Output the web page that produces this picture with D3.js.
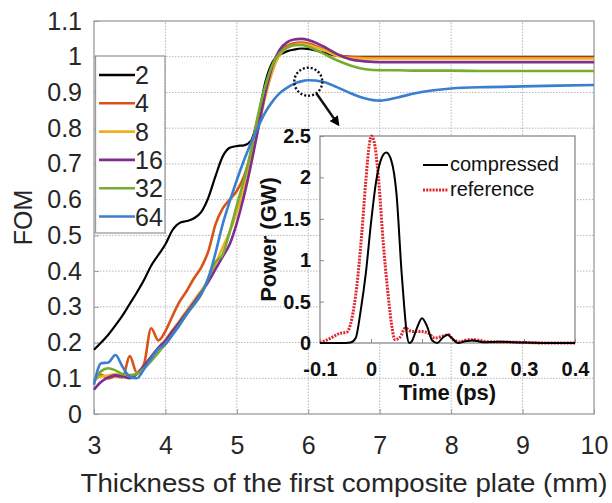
<!DOCTYPE html>
<html>
<head>
<meta charset="utf-8">
<script src="https://cdn.jsdelivr.net/npm/d3@7"></script>
<style>
  body { margin: 0; background: #fff; }
  svg { display: block; font-family: "Liberation Sans", Arial, sans-serif; }
</style>
</head>
<body>
<div id="vis"></div>
<script>
// main panel: FOM vs plate thickness
var thick = [3.0, 3.1, 3.2, 3.3, 3.4, 3.5, 3.6, 3.7, 3.8, 3.9,
             4.0, 4.1, 4.2, 4.3, 4.4, 4.5, 4.6, 4.7, 4.8, 4.9,
             5.0, 5.1, 5.2, 5.3, 5.4, 5.5, 5.6, 5.7, 5.8, 5.9,
             6.0, 6.2, 6.4, 6.6, 6.8, 7.0, 7.25, 7.5, 8.0, 8.5, 9.0, 10.0];

var fom2  = [0.180, 0.200, 0.222, 0.248, 0.276, 0.308, 0.340, 0.375, 0.415, 0.445,
             0.475, 0.515, 0.535, 0.540, 0.548, 0.565, 0.605, 0.665, 0.720, 0.745,
             0.750, 0.752, 0.765, 0.835, 0.930, 0.985, 1.005, 1.015, 1.020, 1.023,
             1.022, 1.012, 1.003, 1.000, 1.000, 1.000, 1.000, 1.000, 1.000, 1.000, 1.000, 1.000];
var fom4  = [0.095, 0.110, 0.100, 0.106, 0.102, 0.162, 0.116, 0.140, 0.240, 0.206,
             0.232, 0.275, 0.315, 0.345, 0.380, 0.410, 0.455, 0.530, 0.575, 0.600,
             0.625, 0.665, 0.730, 0.810, 0.895, 0.965, 1.010, 1.030, 1.038, 1.040,
             1.037, 1.022, 1.005, 0.999, 0.998, 0.998, 0.998, 0.998, 0.998, 0.998, 0.998, 0.998];
var fom8  = [0.100, 0.105, 0.108, 0.112, 0.105, 0.105, 0.115, 0.135, 0.160, 0.185,
             0.208, 0.235, 0.262, 0.290, 0.318, 0.345, 0.375, 0.420, 0.465, 0.510,
             0.565, 0.630, 0.710, 0.800, 0.890, 0.960, 1.005, 1.025, 1.033, 1.036,
             1.033, 1.020, 1.003, 0.996, 0.995, 0.995, 0.995, 0.995, 0.995, 0.995, 0.995, 0.995];
var fom16 = [0.068, 0.090, 0.102, 0.108, 0.105, 0.100, 0.112, 0.135, 0.160, 0.185,
             0.205, 0.232, 0.258, 0.285, 0.312, 0.340, 0.370, 0.405, 0.440, 0.475,
             0.535, 0.610, 0.700, 0.800, 0.900, 0.975, 1.020, 1.040, 1.048, 1.050,
             1.047, 1.030, 1.008, 0.992, 0.987, 0.985, 0.985, 0.985, 0.985, 0.985, 0.985, 0.985];
var fom32 = [0.090, 0.120, 0.128, 0.122, 0.112, 0.109, 0.112, 0.128, 0.148, 0.172,
             0.196, 0.222, 0.250, 0.280, 0.305, 0.335, 0.380, 0.425, 0.445, 0.510,
             0.585, 0.655, 0.740, 0.840, 0.920, 0.978, 1.010, 1.025, 1.032, 1.033,
             1.028, 1.010, 0.990, 0.975, 0.965, 0.962, 0.962, 0.961, 0.961, 0.960, 0.960, 0.960];
var fom64 = [0.082, 0.142, 0.144, 0.165, 0.132, 0.105, 0.100, 0.125, 0.155, 0.182,
             0.195, 0.222, 0.250, 0.280, 0.308, 0.335, 0.380, 0.450, 0.530, 0.595,
             0.655, 0.710, 0.760, 0.805, 0.845, 0.875, 0.898, 0.913, 0.924, 0.931,
             0.934, 0.930, 0.915, 0.897, 0.883, 0.877, 0.886, 0.898, 0.911, 0.915, 0.917, 0.921];

var seriesNames  = ["2", "4", "8", "16", "32", "64"];
var seriesValues = [fom2, fom4, fom8, fom16, fom32, fom64];
var seriesColors = ["#000000", "#d95319", "#edb120", "#7e2f8e", "#77ac30", "#3a7fcf"];

var xTicks = [3, 4, 5, 6, 7, 8, 9, 10];
var yTicks = [0, 0.1, 0.2, 0.3, 0.4, 0.5, 0.6, 0.7, 0.8, 0.9, 1, 1.1];

// highlighted point and arrow target (data units of main panel)
var markPoint = [6.0, 0.93];
var arrowEnd  = [6.42, 0.81];

// inset: pulse power vs time
var timeComp = [-0.1, -0.05, -0.04, -0.03, -0.02, -0.01, 0.0, 0.01, 0.02, 0.03,
                0.04, 0.05, 0.06, 0.065, 0.07, 0.075, 0.08, 0.09, 0.1, 0.11,
                0.12, 0.13, 0.14, 0.15, 0.16, 0.17, 0.185, 0.2, 0.22, 0.25, 0.3, 0.35, 0.4];
var powerComp = [0, 0, 0.005, 0.06, 0.4, 0.85, 1.45, 1.95, 2.22, 2.3,
                 2.2, 1.8, 0.85, 0.45, 0.12, 0.0, 0.02, 0.18, 0.3, 0.2,
                 0.03, 0.0, 0.06, 0.1, 0.05, 0.0, 0.02, 0.03, 0.01, 0.015, 0.005, 0.0, 0.0];

var timeRef = [-0.1, -0.08, -0.061, -0.048, -0.038, -0.028, -0.018, -0.01, -0.003, 0.001,
               0.008, 0.016, 0.024, 0.032, 0.04, 0.047, 0.057, 0.067, 0.08, 0.096,
               0.112, 0.125, 0.139, 0.152, 0.161, 0.175, 0.19, 0.204, 0.227, 0.279, 0.344, 0.4];
var powerRef = [0, 0.056, 0.117, 0.13, 0.28, 0.68, 1.33, 1.97, 2.41, 2.5,
                2.37, 1.89, 1.21, 0.68, 0.24, 0.04, 0.07, 0.18, 0.14, 0.14,
                0.12, 0.06, 0.08, 0.1, 0.04, 0.015, 0.04, 0.04, 0.015, 0.01, 0.0, 0.0];

var tTicks = [-0.1, 0, 0.1, 0.2, 0.3, 0.4];
var pTicks = [0, 0.5, 1, 1.5, 2, 2.5];
var insetNames = ["compressed", "reference"];

var svg = d3.select("div#vis")
  .append("svg")
  .attr("width", 612)
  .attr("height", 503);

var x1 = d3.scaleLinear().domain([3, 10]).range([94, 594]);
var y1 = d3.scaleLinear().domain([0, 1.1]).range([414, 21]);

var frameColor = "#9a9a9a";
var gridColor = "#b5b5b5";

// grid
var grid = svg.append("g");
grid.selectAll(".vg")
  .data(xTicks.slice(1, -1))
  .enter().append("line")
  .attr("x1", function(d) { return x1(d); })
  .attr("x2", function(d) { return x1(d); })
  .attr("y1", y1(0)).attr("y2", y1(1.1))
  .attr("stroke", gridColor).attr("stroke-dasharray", "1.5,1.5");
grid.selectAll(".hg")
  .data(yTicks.slice(1, -1))
  .enter().append("line")
  .attr("y1", function(d) { return y1(d); })
  .attr("y2", function(d) { return y1(d); })
  .attr("x1", x1(3)).attr("x2", x1(10))
  .attr("stroke", gridColor).attr("stroke-dasharray", "1.5,1.5");

// axes (ticks inward)
var xAxis = svg.append("g")
  .attr("transform", "translate(0," + y1(0) + ")")
  .call(d3.axisBottom(x1).tickValues(xTicks).tickSizeInner(-5).tickSizeOuter(0).tickPadding(22)
    .tickFormat(function(d) { return d; }));
var yAxis = svg.append("g")
  .attr("transform", "translate(" + x1(3) + ",0)")
  .call(d3.axisLeft(y1).tickValues(yTicks).tickSizeInner(-5).tickSizeOuter(0).tickPadding(12)
    .tickFormat(function(d) { return +d.toFixed(1); }));
[xAxis, yAxis].forEach(function(a) {
  a.select(".domain").remove();
  a.selectAll("line").attr("stroke", frameColor);
  a.selectAll("text").attr("font-size", 25).attr("fill", "#262626")
    .attr("font-family", "Liberation Sans, Arial, sans-serif");
});

svg.append("rect")
  .attr("x", x1(3)).attr("y", y1(1.1))
  .attr("width", x1(10) - x1(3)).attr("height", y1(0) - y1(1.1))
  .attr("fill", "none").attr("stroke", frameColor).attr("stroke-width", 1.3);

// curves
var line1 = d3.line()
  .x(function(d) { return x1(d[0]); })
  .y(function(d) { return y1(d[1]); })
  .curve(d3.curveMonotoneX);

svg.append("g")
  .selectAll("path")
  .data(seriesValues)
  .enter().append("path")
  .attr("d", function(vals) { return line1(vals.map(function(v, i) { return [thick[i], v]; })); })
  .attr("fill", "none")
  .attr("stroke", function(d, i) { return seriesColors[i]; })
  .attr("stroke-width", function(d, i) { return i === 0 ? 2.2 : 2.6; })
  .attr("stroke-linejoin", "round");

// legend of main panel
var leg = svg.append("g");
leg.append("rect")
  .attr("x", 95.5).attr("y", 56)
  .attr("width", 69.5).attr("height", 177)
  .attr("fill", "#fff").attr("stroke", frameColor).attr("stroke-width", 1.3);
var legRow = leg.selectAll(".row")
  .data(seriesNames)
  .enter().append("g")
  .attr("transform", function(d, i) { return "translate(0," + (75 + i * 28.3) + ")"; });
legRow.append("line")
  .attr("x1", 99).attr("x2", 135)
  .attr("stroke", function(d, i) { return seriesColors[i]; })
  .attr("stroke-width", 2.6);
legRow.append("text")
  .attr("x", 135).attr("y", 9)
  .attr("font-size", 25).attr("fill", "#262626")
  .text(function(d) { return d; });

// axis titles
svg.append("text")
  .attr("x", (x1(3) + x1(10)) / 2).attr("y", 492)
  .attr("text-anchor", "middle")
  .attr("font-size", 26).attr("fill", "#262626")
  .attr("textLength", 527).attr("lengthAdjust", "spacingAndGlyphs")
  .text("Thickness of the first composite plate (mm)");
svg.append("text")
  .attr("transform", "translate(32," + ((y1(0) + y1(1.1)) / 2) + ") rotate(-90)")
  .attr("text-anchor", "middle")
  .attr("font-size", 25).attr("fill", "#262626")
  .text("FOM");

// dotted circle + arrow
svg.append("defs").append("marker")
  .attr("id", "arrow")
  .attr("viewBox", "0 0 10 10")
  .attr("refX", 8).attr("refY", 5)
  .attr("markerWidth", 4).attr("markerHeight", 4)
  .attr("orient", "auto")
  .append("path").attr("d", "M0,0L10,5L0,10Z").attr("fill", "#000");

svg.append("circle")
  .attr("cx", x1(markPoint[0])).attr("cy", y1(markPoint[1]))
  .attr("r", 14)
  .attr("fill", "none").attr("stroke", "#111")
  .attr("stroke-width", 2.4).attr("stroke-dasharray", "2,2");

var ax0 = x1(markPoint[0]), ay0 = y1(markPoint[1]);
var ax1 = x1(arrowEnd[0]), ay1 = y1(arrowEnd[1]);
var ang = Math.atan2(ay1 - ay0, ax1 - ax0);
svg.append("line")
  .attr("x1", ax0 + 14 * Math.cos(ang)).attr("y1", ay0 + 14 * Math.sin(ang))
  .attr("x2", ax1).attr("y2", ay1)
  .attr("stroke", "#111").attr("stroke-width", 2.5)
  .attr("marker-end", "url(#arrow)");

// ---------- inset ----------
var x2 = d3.scaleLinear().domain([-0.1, 0.4]).range([320, 575]);
var y2 = d3.scaleLinear().domain([0, 2.5]).range([343, 136]);

var inset = svg.append("g");
inset.append("rect")
  .attr("x", x2(-0.1)).attr("y", y2(2.5))
  .attr("width", x2(0.4) - x2(-0.1)).attr("height", y2(0) - y2(2.5))
  .attr("fill", "#fff").attr("stroke", "#8a8a8a").attr("stroke-width", 1.3);

var xAxis2 = inset.append("g")
  .attr("transform", "translate(0," + y2(0) + ")")
  .call(d3.axisBottom(x2).tickValues(tTicks).tickSizeInner(-4).tickSizeOuter(0).tickPadding(19)
    .tickFormat(function(d) { return +d.toFixed(1); }));
var yAxis2 = inset.append("g")
  .attr("transform", "translate(" + x2(-0.1) + ",0)")
  .call(d3.axisLeft(y2).tickValues(pTicks).tickSizeInner(-4).tickSizeOuter(0).tickPadding(9)
    .tickFormat(function(d) { return d; }));
[xAxis2, yAxis2].forEach(function(a) {
  a.select(".domain").remove();
  a.selectAll("line").attr("stroke", "#8a8a8a");
  a.selectAll("text").attr("font-size", 20).attr("font-weight", "bold").attr("fill", "#111")
    .attr("font-family", "Liberation Sans, Arial, sans-serif");
});

var line2 = d3.line()
  .x(function(d) { return x2(d[0]); })
  .y(function(d) { return y2(d[1]); })
  .curve(d3.curveMonotoneX);

inset.append("path")
  .attr("d", line2(timeRef.map(function(t, i) { return [t, powerRef[i]]; })))
  .attr("fill", "none").attr("stroke", "#e0262c")
  .attr("stroke-width", 3).attr("stroke-dasharray", "2,1.2");
inset.append("path")
  .attr("d", line2(timeComp.map(function(t, i) { return [t, powerComp[i]]; })))
  .attr("fill", "none").attr("stroke", "#000").attr("stroke-width", 2);

// inset legend
var leg2 = inset.selectAll(".leg2")
  .data(insetNames)
  .enter().append("g")
  .attr("transform", function(d, i) { return "translate(0," + (165 + i * 25) + ")"; });
leg2.append("line")
  .attr("x1", 423).attr("x2", 448)
  .attr("stroke", function(d, i) { return i === 0 ? "#000" : "#e0262c"; })
  .attr("stroke-width", function(d, i) { return i === 0 ? 2 : 3; })
  .attr("stroke-dasharray", function(d, i) { return i === 0 ? null : "2,1.2"; });
leg2.append("text")
  .attr("x", 450).attr("y", 6)
  .attr("font-size", 20).attr("fill", "#111")
  .text(function(d) { return d; });

inset.append("text")
  .attr("x", (x2(-0.1) + x2(0.4)) / 2).attr("y", 400)
  .attr("text-anchor", "middle")
  .attr("font-size", 22).attr("font-weight", "bold").attr("fill", "#111")
  .text("Time (ps)");
inset.append("text")
  .attr("transform", "translate(276," + ((y2(0) + y2(2.5)) / 2) + ") rotate(-90)")
  .attr("text-anchor", "middle")
  .attr("font-size", 22).attr("font-weight", "bold").attr("fill", "#111")
  .text("Power (GW)");
</script>
</body>
</html>
